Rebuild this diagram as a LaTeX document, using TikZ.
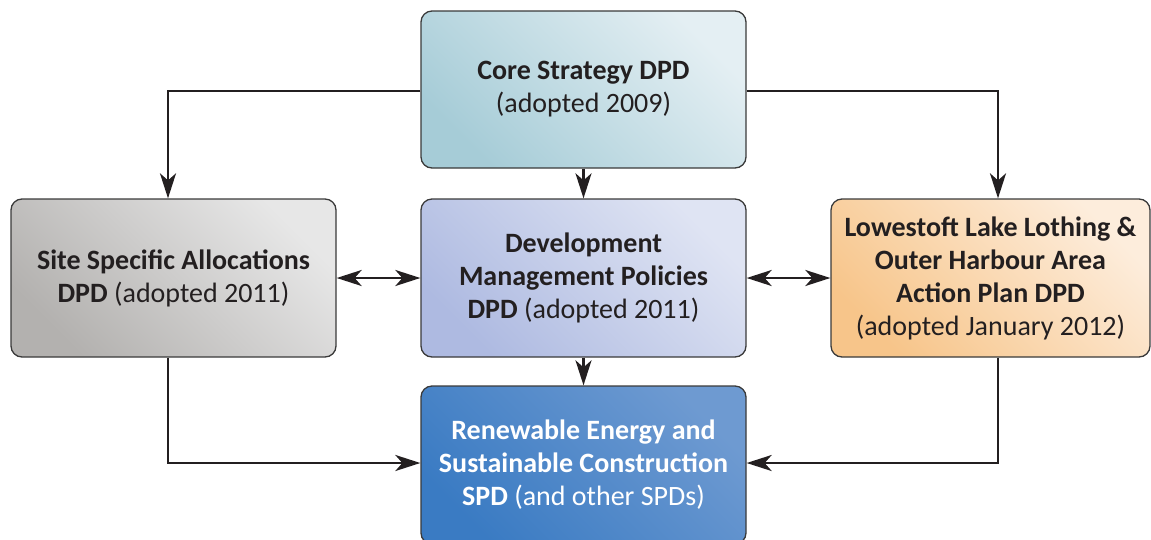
\documentclass[tikz,border=0pt]{standalone}
\usepackage{fontspec}
\setmainfont{Carlito}
\usetikzlibrary{arrows.meta,shadings}
\definecolor{txt}{HTML}{231F20}
\definecolor{edge}{HTML}{3A3A3A}
\definecolor{coreA}{HTML}{A6CCD7}
\definecolor{coreB}{HTML}{E4EFF3}
\definecolor{dmpA}{HTML}{AEBAE1}
\definecolor{dmpB}{HTML}{DFE4F3}
\definecolor{siteA}{HTML}{B3B1AF}
\definecolor{siteB}{HTML}{E7E7E7}
\definecolor{lowA}{HTML}{F7C58A}
\definecolor{lowB}{HTML}{FDEDDC}
\definecolor{renA}{HTML}{3A7BC3}
\definecolor{renB}{HTML}{6E9AD1}
\begin{document}
\begin{tikzpicture}[x=1pt,y=-1pt,
  box/.style={draw=edge,line width=1.3pt,rounded corners=11pt,minimum width=325pt,minimum height=158pt,
    align=center,text=txt,font=\fontsize{28}{33}\selectfont,inner sep=0pt},
  grad/.style 2 args={shading=axis,left color=#1,right color=#2,shading angle=135},
  conn/.style={draw=txt,line width=2.5pt,-{Stealth[length=25pt,width=16pt,inset=7pt]}},
  dconn/.style={draw=txt,line width=2.5pt,{Stealth[length=25pt,width=16pt,inset=7pt]}-{Stealth[length=25pt,width=16pt,inset=7pt]}}]
\useasboundingbox (0,0) rectangle (1151,539);
% boxes
\node[box,grad={coreA}{coreB},minimum height=157pt] (core) at (583.5,89.5) {\textbf{Core Strategy DPD}\\(adopted 2009)};
\node[box,grad={dmpA}{dmpB}] (dmp) at (583.5,278) {\textbf{Development}\\\textbf{Management Policies}\\\textbf{DPD} (adopted 2011)};
\node[box,grad={siteA}{siteB}] (site) at (173.5,278) {\textbf{Site Specific Allocations}\\\textbf{DPD} (adopted 2011)};
\node[box,grad={lowA}{lowB},minimum width=319pt] (low) at (990.5,278) {\textbf{Lowestoft Lake Lothing \&}\\\textbf{Outer Harbour Area}\\\textbf{Action Plan DPD}\\(adopted January 2012)};
\node[box,grad={renA}{renB},text=white] (ren) at (583.5,465) {\textbf{Renewable Energy and}\\\textbf{Sustainable Construction}\\\textbf{SPD} (and other SPDs)};
% connectors
\coordinate (c1) at (168,91);
\coordinate (c2) at (998,91);
\coordinate (c3) at (168,463);
\coordinate (c4) at (998,463);
\draw[conn] (core.west |- c1) -- (c1) -- (c1 |- site.north);
\draw[conn] (core.east |- c2) -- (c2) -- (c2 |- low.north);
\draw[conn] (core.south) -- (dmp.north);
\draw[conn] (dmp.south) -- (ren.north);
\draw[dconn] (site.east) -- (dmp.west);
\draw[dconn] (dmp.east) -- (low.west);
\draw[conn] (c3 |- site.south) -- (c3) -- (c3 -| ren.west);
\draw[conn] (c4 |- low.south) -- (c4) -- (c4 -| ren.east);
\end{tikzpicture}
\end{document}
